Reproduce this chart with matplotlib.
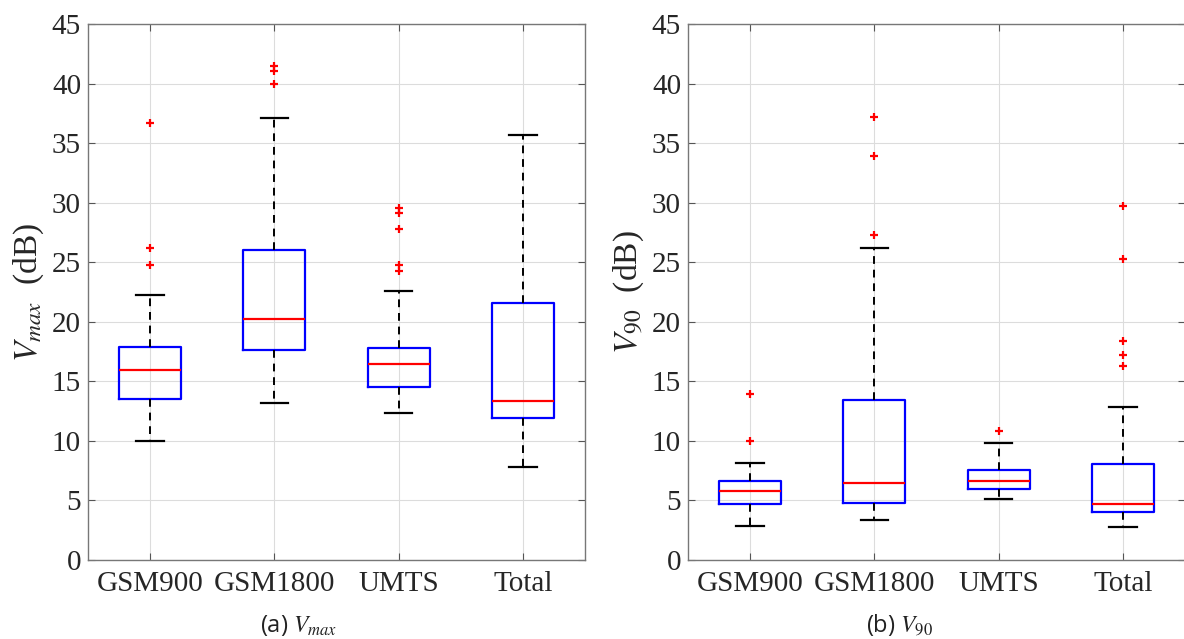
import matplotlib
matplotlib.use('Agg')
import matplotlib.pyplot as plt
import numpy as np

# categories shared by both panels
categories = ['GSM900', 'GSM1800', 'UMTS', 'Total']

# V_max box statistics (dB)
vmax_med = [15.95, 20.27, 16.47, 13.34]
vmax_q1 = [13.50, 17.67, 14.54, 11.94]
vmax_q3 = [17.86, 26.00, 17.81, 21.56]
vmax_lo = [9.96, 13.14, 12.34, 7.81]
vmax_hi = [22.25, 37.15, 22.60, 35.67]
vmax_out = [[36.7, 26.2, 24.74],
            [41.48, 41.03, 40.0],
            [29.57, 29.15, 27.8, 24.75, 24.27],
            []]

# V_90 box statistics (dB)
v90_med = [5.83, 6.44, 6.61, 4.71]
v90_q1 = [4.68, 4.76, 5.94, 4.01]
v90_q3 = [6.64, 13.43, 7.56, 8.06]
v90_lo = [2.89, 3.39, 5.16, 2.81]
v90_hi = [8.11, 26.17, 9.79, 12.84]
v90_out = [[13.96, 9.99],
           [37.17, 33.88, 27.26],
           [10.85],
           [29.74, 25.27, 18.37, 17.25, 16.3]]


def make_stats(med, q1, q3, lo, hi, out):
    stats = []
    for i in range(len(categories)):
        stats.append({'med': med[i], 'q1': q1[i], 'q3': q3[i],
                      'whislo': lo[i], 'whishi': hi[i],
                      'fliers': out[i], 'label': categories[i]})
    return stats


def draw_panel(ax, stats, ylabel):
    ax.bxp(stats, positions=np.arange(1, len(categories) + 1), widths=0.5,
           capwidths=0.22, showfliers=True,
           boxprops=dict(color='blue', linewidth=1.6),
           medianprops=dict(color='red', linewidth=1.6),
           whiskerprops=dict(color='black', linewidth=1.4, linestyle=(0, (4, 3))),
           capprops=dict(color='black', linewidth=1.6),
           flierprops=dict(marker='+', markeredgecolor='red', markersize=6,
                           markeredgewidth=1.6, linestyle='none'))
    ax.set_xlim(0.5, 4.5)
    ax.set_ylim(0, 45)
    ax.set_yticks(np.arange(0, 46, 5))
    ax.grid(True, color='#dcdcdc', linewidth=0.8)
    ax.set_axisbelow(True)
    ax.tick_params(direction='in', top=True, right=True, length=5,
                   colors='#555555', labelcolor='#262626', labelsize=21,
                   width=0.8)
    ax.tick_params(axis='y', pad=5)
    ax.tick_params(axis='x', pad=8)
    for s in ax.spines.values():
        s.set_color('#777777')
        s.set_linewidth(1.0)
    ax.set_ylabel(ylabel, fontsize=24, color='#262626', labelpad=4)


plt.rcParams['font.family'] = ['Liberation Serif', 'DejaVu Serif']
plt.rcParams['mathtext.fontset'] = 'stix'

fig = plt.figure(figsize=(11.84, 6.39), dpi=100)
W, H = 1184.0, 639.0
ax1 = fig.add_axes([88 / W, (H - 560) / H, 497 / W, 536 / H])
ax2 = fig.add_axes([688 / W, (H - 560) / H, 497 / W, 536 / H])

draw_panel(ax1, make_stats(vmax_med, vmax_q1, vmax_q3, vmax_lo, vmax_hi, vmax_out),
           r'$V_{max}$  (dB)')
draw_panel(ax2, make_stats(v90_med, v90_q1, v90_q3, v90_lo, v90_hi, v90_out),
           r'$V_{90}$  (dB)')

fig.text(299 / W, 1 - 625 / H, r'(a) $\mathit{V_{max}}$', ha='center', va='center',
         fontsize=17, family=['Open Sans', 'DejaVu Sans'], color='#222222')
fig.text(900 / W, 1 - 625 / H, r'(b) $\mathit{V_{90}}$', ha='center', va='center',
         fontsize=17, family=['Open Sans', 'DejaVu Sans'], color='#222222')

fig.savefig('out.png', dpi=100)
